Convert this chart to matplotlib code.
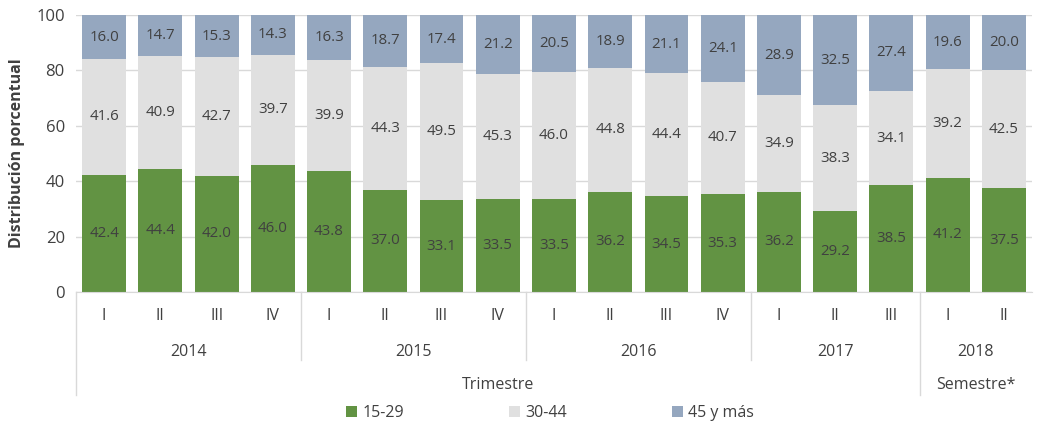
import matplotlib.pyplot as plt
import numpy as np

plt.rcParams['font.family'] = ['Open Sans', 'DejaVu Sans']

# datos
quarters = ['I', 'II', 'III', 'IV', 'I', 'II', 'III', 'IV', 'I', 'II', 'III', 'IV',
            'I', 'II', 'III', 'I', 'II']
years = ['2014', '2015', '2016', '2017', '2018']
year_sizes = [4, 4, 4, 3, 2]
g15_29 = [42.4, 44.4, 42.0, 46.0, 43.8, 37.0, 33.1, 33.5, 33.5, 36.2, 34.5, 35.3,
          36.2, 29.2, 38.5, 41.2, 37.5]
g30_44 = [41.6, 40.9, 42.7, 39.7, 39.9, 44.3, 49.5, 45.3, 46.0, 44.8, 44.4, 40.7,
          34.9, 38.3, 34.1, 39.2, 42.5]
g45 = [16.0, 14.7, 15.3, 14.3, 16.3, 18.7, 17.4, 21.2, 20.5, 18.9, 21.1, 24.1,
       28.9, 32.5, 27.4, 19.6, 20.0]
series_names = ['15-29', '30-44', '45 y más']
colors = ['#629343', '#e0e0e0', '#95a7bf']
txt = '#404040'

fig = plt.figure(figsize=(10.38, 4.22), dpi=100)
ax = fig.add_axes([0.0732, 0.308, 0.921, 0.6564])

x = np.arange(len(quarters))
bottom = np.zeros(len(x))
for vals, c, name in zip([g15_29, g30_44, g45], colors, series_names):
    vals = np.array(vals)
    ax.bar(x, vals, bottom=bottom, width=0.78, color=c, label=name, zorder=2)
    for xi, b, v in zip(x, bottom, vals):
        ax.text(xi, b + v / 2, f'{v:.1f}', ha='center', va='center',
                fontsize=10.8, color=txt, zorder=3)
    bottom += vals

ax.set_xlim(-0.5, len(x) - 0.5)
ax.set_ylim(0, 100)
ax.set_yticks(range(0, 101, 20))
ax.yaxis.grid(True, color='#d9d9d9', linewidth=1, zorder=0)
ax.set_axisbelow(True)
for s in ['top', 'right', 'left']:
    ax.spines[s].set_visible(False)
ax.spines['bottom'].set_color('#d9d9d9')
ax.tick_params(axis='y', length=0, labelsize=12, labelcolor=txt, pad=8)
ax.set_xticks([])
ax.set_ylabel('Distribución porcentual', fontsize=11.5, fontweight='bold',
              color=txt, labelpad=8)

# eje de categorías en varios niveles
tr = ax.get_xaxis_transform()
line_kw = dict(color='#d9d9d9', linewidth=1, transform=tr, clip_on=False)
for xi, q in zip(x, quarters):
    ax.text(xi, -0.087, q, ha='center', va='center', fontsize=11.5,
            color=txt, transform=tr)
start = 0
for y, n in zip(years, year_sizes):
    ax.text(start + (n - 1) / 2, -0.217, y, ha='center', va='center',
            fontsize=11.5, color=txt, transform=tr)
    start += n
    if start < len(x):
        depth = -0.372 if start == 15 else -0.245
        ax.plot([start - 0.5, start - 0.5], [0, depth], **line_kw)
ax.plot([-0.5, -0.5], [0, -0.372], **line_kw)
ax.text(7, -0.337, 'Trimestre', ha='center', va='center', fontsize=11.5,
        color=txt, transform=tr)
ax.text(15.5, -0.337, 'Semestre*', ha='center', va='center', fontsize=11.5,
        color=txt, transform=tr)

fig.legend(loc='lower center', bbox_to_anchor=(0.53, -0.032), ncol=3,
           frameon=False, fontsize=11.5, handlelength=0.7, handleheight=0.7,
           handletextpad=0.3, columnspacing=6.6, labelcolor=txt)

fig.savefig('out.png', dpi=100)
